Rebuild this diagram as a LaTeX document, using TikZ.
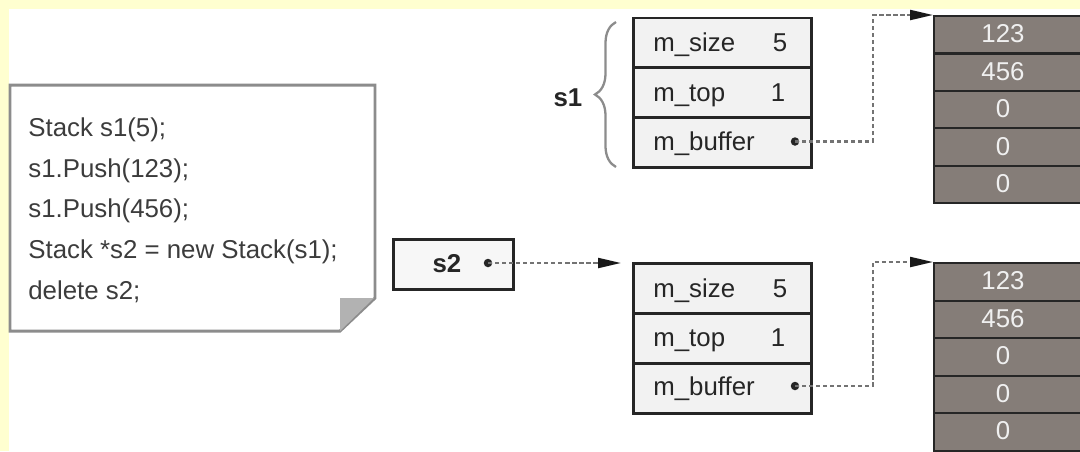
\documentclass[tikz,border=0pt]{standalone}
\usepackage{fontspec}
\setmainfont{Liberation Sans}
\usetikzlibrary{arrows.meta,decorations.pathreplacing}
\definecolor{bgyellow}{RGB}{255,255,208}
\definecolor{notegray}{RGB}{140,140,140}
\definecolor{foldgray}{RGB}{178,178,178}
\definecolor{txtgray}{RGB}{60,60,60}
\definecolor{structfill}{RGB}{242,242,242}
\definecolor{cellfill}{RGB}{133,125,120}
\definecolor{celltxt}{RGB}{240,240,240}
\begin{document}
\begin{tikzpicture}[x=0.02cm,y=-0.02cm,
  txt/.style={font=\fontsize{14.7}{17}\selectfont, text=txtgray, inner sep=0pt, text height=10.5pt, text depth=0pt},
  stxt/.style={txt, text=black!85},
  btxt/.style={txt, font=\fontsize{14.7}{17}\selectfont\bfseries, text=black!85},
  field/.style={draw=black!85, line width=1.5pt, fill=structfill, minimum width=3.56cm, minimum height=1cm, anchor=north west, inner sep=0pt},
  cell/.style={draw=black!85, line width=1.2pt, fill=cellfill, minimum width=2.98cm, anchor=north west, inner sep=0pt},
  celltext/.style={txt, text=celltxt},
  dot/.style={circle, fill=black!85, inner sep=0pt, minimum size=0.17cm},
  ptr/.style={draw=black!55, line width=1.2pt, dash pattern=on 2.4pt off 1.6pt, -{Triangle[length=0.46cm,width=0.2cm,fill=black!90,color=black!90]}},
  bracestyle/.style={draw=notegray, line width=1.3pt, decorate, decoration={brace, amplitude=0.42cm}}
]
\useasboundingbox (0,0) rectangle (1080,451);
\clip (0,0) rectangle (1080,451);
\fill[white] (0,0) rectangle (1080,451);
\fill[bgyellow] (0,0) rectangle (1080,9);
\fill[bgyellow] (0,0) rectangle (9,451);

% note
\path[fill=white, draw=notegray, line width=1.7pt, line join=miter]
  (10,85) -- (375,85) -- (375,298) -- (340,331) -- (10,331) -- cycle;
\fill[foldgray] (340,298) -- (374,298) -- (340,331) -- cycle;
\node[txt, anchor=west] (l1) at (28,127) {Stack s1(5);};
\node[txt, anchor=west] (l2) at (28,167.8) {s1.Push(123);};
\node[txt, anchor=west] (l3) at (28,208.6) {s1.Push(456);};
\node[txt, anchor=west] (l4) at (28,249.4) {Stack *s2 = new Stack(s1);};
\node[txt, anchor=west] (l5) at (28,290.2) {delete s2;};

% s1 struct
\node[field] (S1a) at (632,16.5) {};
\node[field] (S1b) at (632,66.5) {};
\node[field] (S1c) at (632,116.5) {};
\node[stxt, anchor=west] (t1a) at (653,42) {m\_size};
\node[stxt] (v1a) at (780,42) {5};
\node[stxt, anchor=west] (t1b) at (653,92) {m\_top};
\node[stxt] (v1b) at (778,92) {1};
\node[stxt, anchor=west] (t1c) at (653,141) {m\_buffer};
\node[dot] (d1) at (795,141.5) {};
\draw[bracestyle] (616,167) -- (616,22);
\node[btxt] (s1lab) at (568,97) {s1};

% s1 array
\foreach \i/\v in {0/123,1/456,2/0,3/0,4/0}{
  \node[cell, minimum height=0.748cm] (A1\i) at (933,{15+37.4*\i}) {};
  \node[celltext] at (1003,{15+37.4*\i+18.7}) {\v};
}
\coordinate (k1) at (873,141.5);
\draw[ptr] (d1.center) -- (k1) |- (A10.north west);

% s2 pointer box
\node[draw=black!85, line width=1.5pt, fill=white!97!black, minimum width=2.4cm, minimum height=1cm, anchor=north west, inner sep=0pt] (s2box) at (392,238) {};
\node[btxt] (s2lab) at (447,263) {s2};
\node[dot] (d2) at (488,263) {};

% s2 struct
\node[field] (S2a) at (632,262) {};
\node[field] (S2b) at (632,312) {};
\node[field] (S2c) at (632,362) {};
\node[stxt, anchor=west] (t2a) at (653,288) {m\_size};
\node[stxt] (v2a) at (780,288) {5};
\node[stxt, anchor=west] (t2b) at (653,337) {m\_top};
\node[stxt] (v2b) at (778,337) {1};
\node[stxt, anchor=west] (t2c) at (653,386) {m\_buffer};
\node[dot] (d3) at (795,386) {};
\draw[ptr, shorten >=0.22cm] (d2.center) -- (d2 -| S2a.north west);

% s2 array
\foreach \i/\v in {0/123,1/456,2/0,3/0,4/0}{
  \node[cell, minimum height=0.75cm] (A2\i) at (933,{262+37.5*\i}) {};
  \node[celltext] at (1003,{262+37.5*\i+18.75}) {\v};
}
\coordinate (k2) at (873,386);
\draw[ptr] (d3.center) -- (k2) |- (A20.north west);
\end{tikzpicture}
\end{document}
